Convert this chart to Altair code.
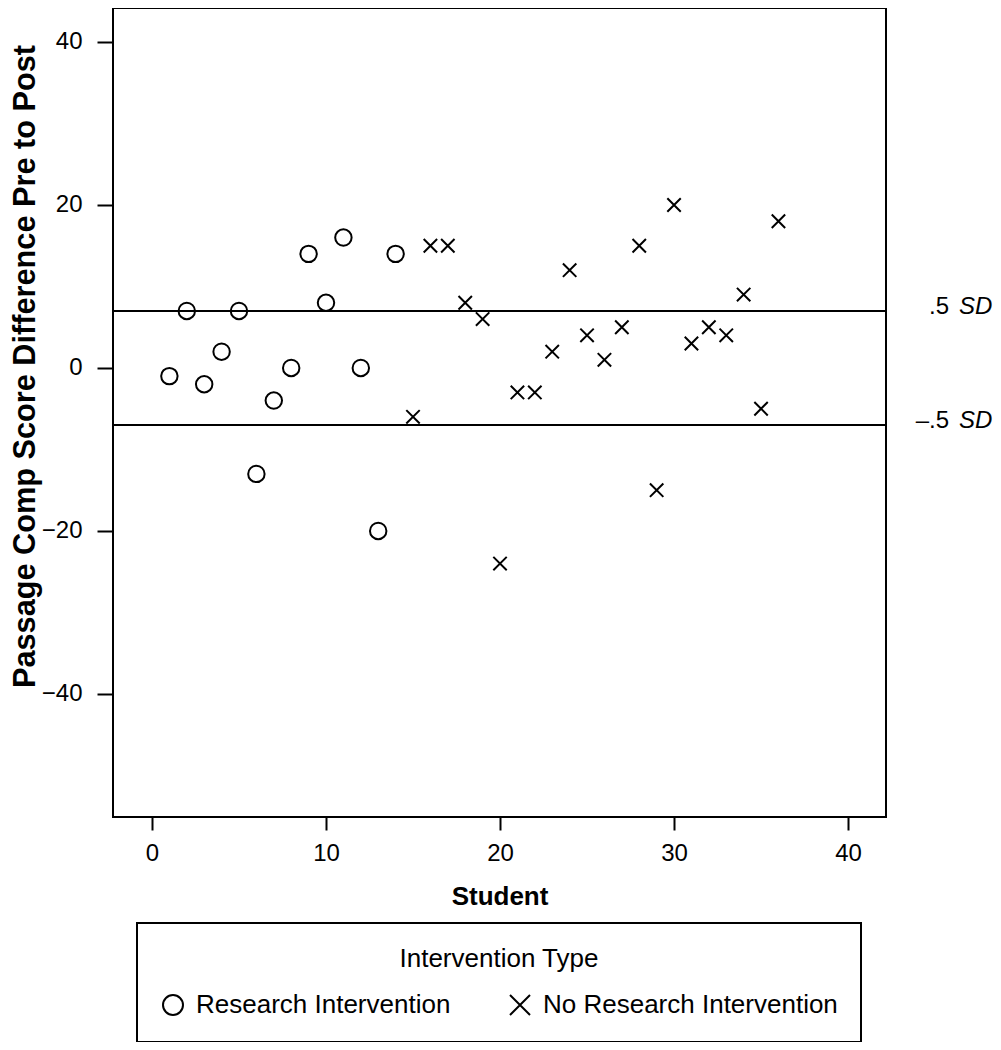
import altair as alt
import pandas as pd

# ---- data ----
students_research = list(range(1, 15))
scores_research = [-1, 7, -2, 2, 7, -13, -4, 0, 14, 8, 16, 0, -20, 14]
students_no_research = list(range(15, 37))
scores_no_research = [-6, 15, 15, 8, 6, -24, -3, -3, 2, 12, 4, 1, 5, 15, -15, 20, 3, 5, 4, 9, -5, 18]
group_names = ["Research Intervention", "No Research Intervention"]
sd_values = [7, -7]
sd_numbers = [".5", "\u2013.5"]
sd_units = ["SD", "SD"]
x_ticks = [0, 10, 20, 30, 40]
y_ticks = [-40, -20, 0, 20, 40]

df = pd.DataFrame({
    "Student": students_research + students_no_research,
    "Score": scores_research + scores_no_research,
    "Type": [group_names[0]] * len(students_research) + [group_names[1]] * len(students_no_research),
})
sd_df = pd.DataFrame({"y": sd_values, "num": sd_numbers, "unit": sd_units})

FONT = "Liberation Sans"
W, H = 773, 809

xscale = alt.Scale(domain=[-2.24, 42.18], nice=False, zero=False)
yscale = alt.Scale(domain=[-55.1, 44.17], nice=False, zero=False)

points = alt.Chart(df).mark_point(filled=False, strokeWidth=2, color="black", opacity=1).encode(
    x=alt.X("Student:Q", scale=xscale,
            axis=alt.Axis(values=x_ticks, title="Student", grid=False, domain=False,
                          tickSize=13, tickWidth=2, tickColor="black",
                          labelFontSize=24, labelPadding=11, labelColor="black", labelFont=FONT,
                          titleFontSize=26, titleFontWeight="bold", titlePadding=18,
                          titleColor="black", titleFont=FONT)),
    y=alt.Y("Score:Q", scale=yscale,
            axis=alt.Axis(values=y_ticks, title="Passage Comp Score Difference Pre to Post",
                          grid=False, domain=False,
                          tickSize=16, tickWidth=2, tickColor="black",
                          labelFontSize=24, labelPadding=15, labelColor="black", labelFont=FONT,
                          titleFontSize=30.7, titleFontWeight="bold", titleColor="black",
                          titleFont=FONT, titleAngle=270, titleBaseline="top",
                          titleAlign="center", titleX=-103, titleY=358, titleLimit=0)),
    shape=alt.Shape("Type:N",
                    scale=alt.Scale(domain=group_names, range=["circle", "M-1,-1L1,1M-1,1L1,-1"]),
                    legend=alt.Legend(title="Intervention Type", orient="none",
                                      legendX=24, legendY=915, direction="horizontal",
                                      titleFontSize=26, titleFontWeight="normal", titleFont=FONT,
                                      titleColor="black", titleAnchor="middle", titlePadding=20,
                                      titleLimit=0,
                                      labelFontSize=26, labelFont=FONT, labelColor="black",
                                      labelOffset=10, columnPadding=55, labelLimit=0,
                                      symbolSize=400, symbolStrokeWidth=2,
                                      symbolStrokeColor="black", symbolFillColor="transparent",
                                      padding=23, strokeColor="black", fillColor="white")),
    size=alt.condition(alt.datum.Type == group_names[0], alt.value(270), alt.value(180)),
)

rules = alt.Chart(sd_df).mark_rule(color="black", strokeWidth=2).encode(
    y=alt.Y("y:Q", scale=yscale)
)

nums = alt.Chart(sd_df).mark_text(align="right", baseline="middle", fontSize=24, font=FONT,
                                   color="black", dy=-4).encode(
    x=alt.value(836), y=alt.Y("y:Q", scale=yscale), text="num:N"
)
units = alt.Chart(sd_df).mark_text(align="left", baseline="middle", fontSize=24, font=FONT,
                                    fontStyle="italic", color="black", dy=-4).encode(
    x=alt.value(846), y=alt.Y("y:Q", scale=yscale), text="unit:N"
)

chart = alt.layer(rules, points, nums, units).properties(
    width=W, height=H,
    autosize=alt.AutoSizeParams(type="none"),
    padding={"left": 105, "top": 0, "right": 107, "bottom": 225},
).configure(font=FONT).configure_view(stroke="black", strokeWidth=2).configure_legend(
    strokeWidth=2
)

chart.save("out.html", embed_options={"renderer": "svg", "actions": False})
